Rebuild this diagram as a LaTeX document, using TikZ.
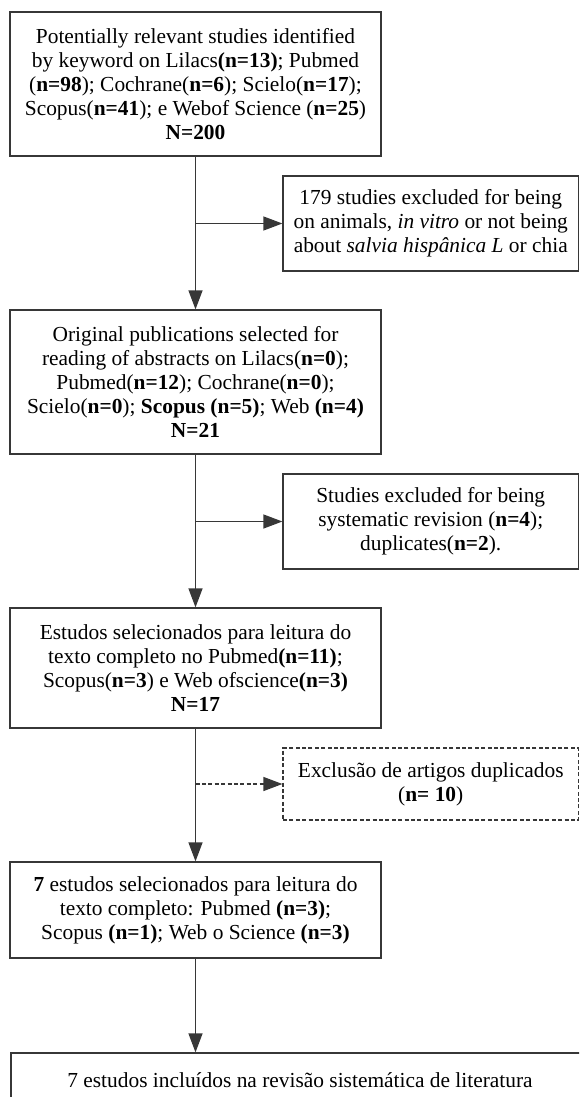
\documentclass[tikz,border=0pt]{standalone}
\usepackage{fontspec}
\setmainfont{Liberation Serif}
\usepackage{xcolor}
\definecolor{linegrey}{RGB}{55, 55, 55}
\usepackage{tikz}
\usetikzlibrary{
  arrows.meta,
  positioning,
  calc
}

\begin{document}
\begin{tikzpicture}[x=0.5pt, y=-0.5pt,
  box/.style={draw=linegrey, line width=0.6pt, align=center, inner sep=0pt,
    font=\fontsize{10.7}{12}\selectfont},
  mainbox/.style={box, minimum width=185.5pt},
  exbox/.style={box, minimum width=147.75pt},
  flow/.style={draw=linegrey, line width=0.6pt, -{Triangle[length=9.5pt, width=7pt]}},
  dashflow/.style={flow, dash pattern=on 2pt off 1.2pt}
]
  \useasboundingbox (0,0) rectangle (579,1097);
  \clip (0,0) rectangle (579,1097);

  % main column
  \node[mainbox, minimum height=72pt] (ident) at (195.5, 84)
    {Potentially relevant studies identified\\
     by keyword on Lilacs\textbf{(n=13)}; Pubmed\\
     (\textbf{n=98}); Cochrane(\textbf{n=6}); Scielo(\textbf{n=17});\\
     Scopus(\textbf{n=41}); e Webof Science (\textbf{n=25})\\
     \textbf{N=200}};
  \node[mainbox, minimum height=72pt] (abstr) at (195.5, 382)
    {Original publications selected for\\
     reading of abstracts on Lilacs(\textbf{n=0});\\
     Pubmed(\textbf{n=12}); Cochrane(\textbf{n=0});\\
     Scielo(\textbf{n=0}); \textbf{Scopus (n=5)}; Web \textbf{(n=4)}\\
     \textbf{N=21}};
  \node[mainbox, minimum height=60pt] (fulltxt) at (195.5, 668)
    {Estudos selecionados para leitura do\\
     texto completo no Pubmed\textbf{(n=11)};\\
     Scopus(\textbf{n=3}) e Web ofscience\textbf{(n=3)}\\
     \textbf{N=17}};
  \node[mainbox, minimum height=48pt] (selec) at (195.5, 910)
    {\textbf{7} estudos selecionados para leitura do\\
     texto completo: Pubmed \textbf{(n=3)};\\
     Scopus \textbf{(n=1)}; Web o Science \textbf{(n=3)}};
  \node[box, minimum width=289pt, minimum height=27pt] (incl) at (300, 1080)
    {7 estudos incluídos na revisão sistemática de literatura};

  % exclusion boxes
  \node[exbox, minimum height=47.5pt] (excl1) at (430.75, 223.5)
    {179 studies excluded for being\\
     on animals, \textit{in vitro} or not being\\
     about \textit{salvia hispânica L} or chia};
  \node[exbox, minimum height=47.5pt] (excl2) at (430.75, 521.5)
    {Studies excluded for being\\
     systematic revision (\textbf{n=4});\\
     duplicates(\textbf{n=2}).};
  \node[exbox, minimum height=36pt, dash pattern=on 2pt off 1.2pt] (excl3) at (430.75, 784)
    {Exclusão de artigos duplicados\\
     (\textbf{n= 10})};

  % flow
  \draw[flow] (ident) -- (abstr);
  \draw[flow] (abstr) -- (fulltxt);
  \draw[flow] (fulltxt) -- (selec);
  \draw[flow] (selec) -- (selec |- incl.north);

  % branches
  \draw[flow] (ident.south |- excl1.west) -- (excl1.west);
  \draw[flow] (abstr.south |- excl2.west) -- (excl2.west);
  \draw[dashflow] (fulltxt.south |- excl3.west) -- (excl3.west);
\end{tikzpicture}
\end{document}
